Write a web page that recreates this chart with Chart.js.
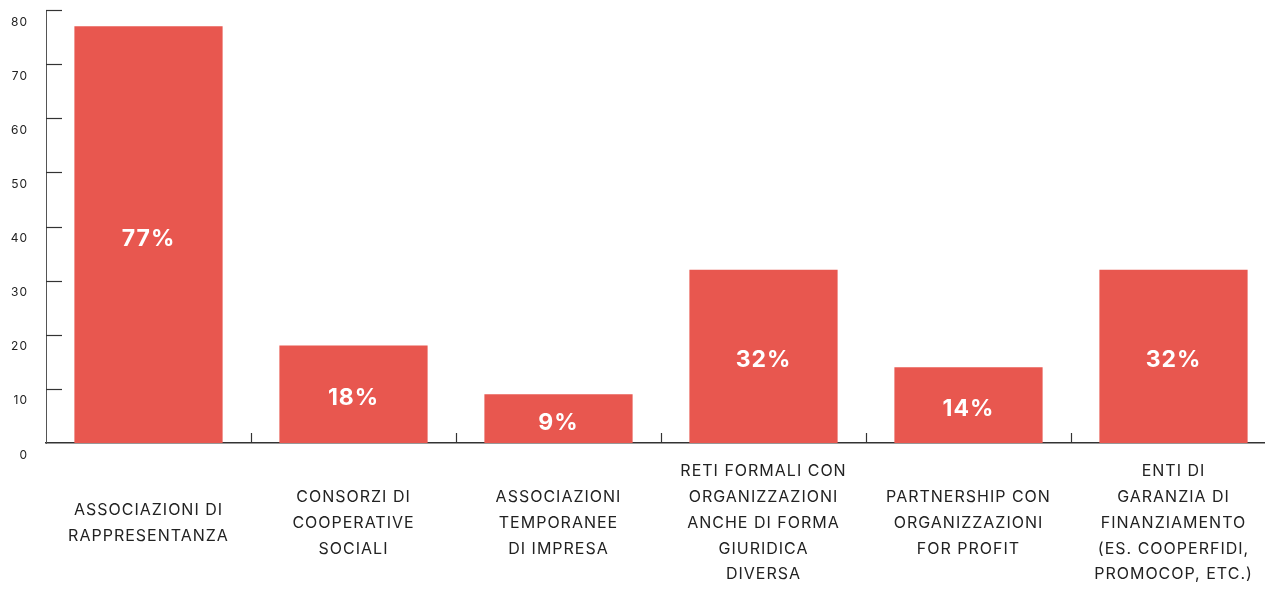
<!DOCTYPE html>
<html>
<head>
<meta charset="utf-8">
<script src="https://cdn.jsdelivr.net/npm/chart.js@4/dist/chart.umd.min.js"></script>
<style>
  html, body { margin: 0; padding: 0; background: #fff; overflow: hidden; }
  #wrap { position: relative; width: 1276px; height: 591px; }
</style>
</head>
<body>
<div id="wrap"><canvas id="chart"></canvas></div>
<script>
// dati
const categories = [
    ['ASSOCIAZIONI DI', 'RAPPRESENTANZA'],
    ['CONSORZI DI', 'COOPERATIVE', 'SOCIALI'],
    ['ASSOCIAZIONI', 'TEMPORANEE', 'DI IMPRESA'],
    ['RETI FORMALI CON', 'ORGANIZZAZIONI', 'ANCHE DI FORMA', 'GIURIDICA', 'DIVERSA'],
    ['PARTNERSHIP CON', 'ORGANIZZAZIONI', 'FOR PROFIT'],
    ['ENTI DI', 'GARANZIA DI', 'FINANZIAMENTO', '(ES. COOPERFIDI,', 'PROMOCOP, ETC.)']
];
const values = [77, 18, 9, 32, 14, 32];
const yTicks = [0, 10, 20, 30, 40, 50, 60, 70, 80];

const barColor = '#e8574f';
const textColor = '#222';

// spaziatura lettere sul canvas
const spacingPlugin = {
    id: 'spacing',
    beforeUpdate(chart) { chart.ctx.letterSpacing = '1px'; },
    beforeDraw(chart) { chart.ctx.letterSpacing = '1px'; }
};

// tacche interne sugli assi
const innerTicks = {
    id: 'innerTicks',
    afterDraw(chart) {
        const ctx = chart.ctx;
        const x = chart.scales.x;
        const y = chart.scales.y;
        ctx.save();
        ctx.strokeStyle = '#333';
        ctx.lineWidth = 1.2;
        yTicks.forEach(v => {
            if (v === 0) return;
            const py = Math.round(y.getPixelForValue(v)) + 0.5;
            ctx.beginPath();
            ctx.moveTo(x.left, py);
            ctx.lineTo(x.left + 16, py);
            ctx.stroke();
        });
        const half = (x.getPixelForValue(1) - x.getPixelForValue(0)) / 2;
        for (let i = 1; i < categories.length; i++) {
            const px = Math.round(x.getPixelForValue(i) - half) + 0.5;
            ctx.beginPath();
            ctx.moveTo(px, y.bottom);
            ctx.lineTo(px, y.bottom - 10);
            ctx.stroke();
        }
        ctx.restore();
    }
};

// etichette percentuali dentro le barre
const valueLabels = {
    id: 'valueLabels',
    afterDatasetsDraw(chart) {
        const ctx = chart.ctx;
        const meta = chart.getDatasetMeta(0);
        ctx.save();
        ctx.letterSpacing = '1px';
        ctx.fillStyle = '#fff';
        ctx.font = 'bold 23px Inter, "Open Sans", sans-serif';
        ctx.textAlign = 'center';
        ctx.textBaseline = 'middle';
        meta.data.forEach((bar, i) => {
            ctx.fillText(values[i] + '%', bar.x, (bar.y + bar.base) / 2 + 4);
        });
        ctx.restore();
    }
};

new Chart(document.getElementById('chart'), {
    type: 'bar',
    data: {
        labels: categories,
        datasets: [{
            data: values,
            backgroundColor: barColor,
            borderWidth: 0,
            barPercentage: 0.723,
            categoryPercentage: 1
        }]
    },
    options: {
        responsive: true,
        maintainAspectRatio: false,
        animation: false,
        layout: { padding: { top: 10, left: 0, right: 0, bottom: 0 } },
        plugins: {
            legend: { display: false },
            tooltip: { enabled: false }
        },
        scales: {
            x: {
                grid: { display: false, drawTicks: false },
                border: { display: true, color: '#333', width: 1.5 },
                ticks: {
                    color: textColor,
                    font: { family: 'Inter, "Open Sans", sans-serif', size: 16, lineHeight: 1.62 },
                    padding: 28,
                    crossAlign: 'center',
                    maxRotation: 0,
                    autoSkip: false
                },
                afterFit(scale) {
                    scale.height = 148;
                    scale.paddingLeft = 0;
                    scale.paddingRight = 0;
                }
            },
            y: {
                min: 0,
                max: 80,
                afterBuildTicks(scale) { scale.ticks = yTicks.map(v => ({ value: v })); },
                grid: { display: false, drawTicks: false },
                border: { display: true, color: '#555', width: 1 },
                ticks: {
                    color: textColor,
                    font: { family: 'Inter, "Open Sans", sans-serif', size: 12 },
                    padding: 18,
                    labelOffset: 12
                },
                afterFit(scale) {
                    scale.width = 46;
                    scale.paddingTop = 0;
                    scale.paddingBottom = 0;
                }
            }
        }
    },
    plugins: [spacingPlugin, innerTicks, valueLabels]
});
</script>
</body>
</html>
